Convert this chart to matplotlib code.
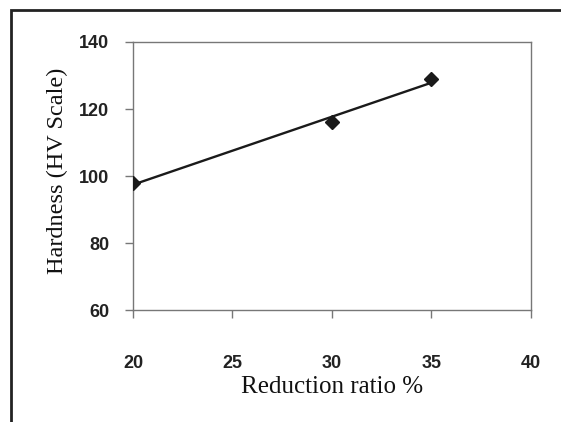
import numpy as np
import matplotlib
matplotlib.use("Agg")
import matplotlib.pyplot as plt
from matplotlib.patches import Rectangle

# data
reduction = [20, 30, 35]
hardness = [98, 116, 129]

x_ticks = [20, 25, 30, 35, 40]
y_ticks = [60, 80, 100, 120, 140]

C_SPINE = "#777777"
C_MARK = "#1a1a1a"

fig = plt.figure(figsize=(5.61, 4.22), dpi=100)
ax = fig.add_axes([0.237, 0.265, 0.7095, 0.6355])

# linear trendline through the measured points
slope, icpt = np.polyfit(reduction, hardness, 1)
xs = np.array([reduction[0], reduction[-1]])
ax.plot(xs, slope * xs + icpt, color=C_MARK, lw=1.7, zorder=2)
ax.plot(reduction, hardness, ls="none", marker="D", ms=7.5, color=C_MARK, zorder=3)

ax.set_xlim(20, 40)
ax.set_ylim(60, 140)
ax.set_xticks(x_ticks)
ax.set_yticks(y_ticks)

for s in ax.spines.values():
    s.set_color(C_SPINE)
    s.set_linewidth(1.0)

ax.tick_params(axis="x", direction="out", length=6, width=1, color=C_SPINE, pad=26)
ax.tick_params(axis="y", direction="out", length=6, width=1, color=C_SPINE, pad=11)
for lab in ax.get_xticklabels() + ax.get_yticklabels():
    lab.set_fontfamily("Liberation Sans")
    lab.set_fontweight("bold")
    lab.set_fontsize(13)
    lab.set_color("#222222")

ax.set_xlabel("Reduction ratio %", fontfamily="Liberation Serif", fontsize=18,
              color="#111111", labelpad=3)
ax.set_ylabel("Hardness (HV Scale)", fontfamily="Liberation Serif", fontsize=17.5,
              color="#111111")
ax.yaxis.set_label_coords(-0.162, 0.52)

# outer chart frame (right/bottom edges run off the image)
fig.patches.append(Rectangle((11 / 561, -0.05), 1.0, 1 - 10 / 422 + 0.05,
                             transform=fig.transFigure, fill=False,
                             edgecolor="#222222", lw=2.0))

fig.savefig("out.png", dpi=100, facecolor="white")
